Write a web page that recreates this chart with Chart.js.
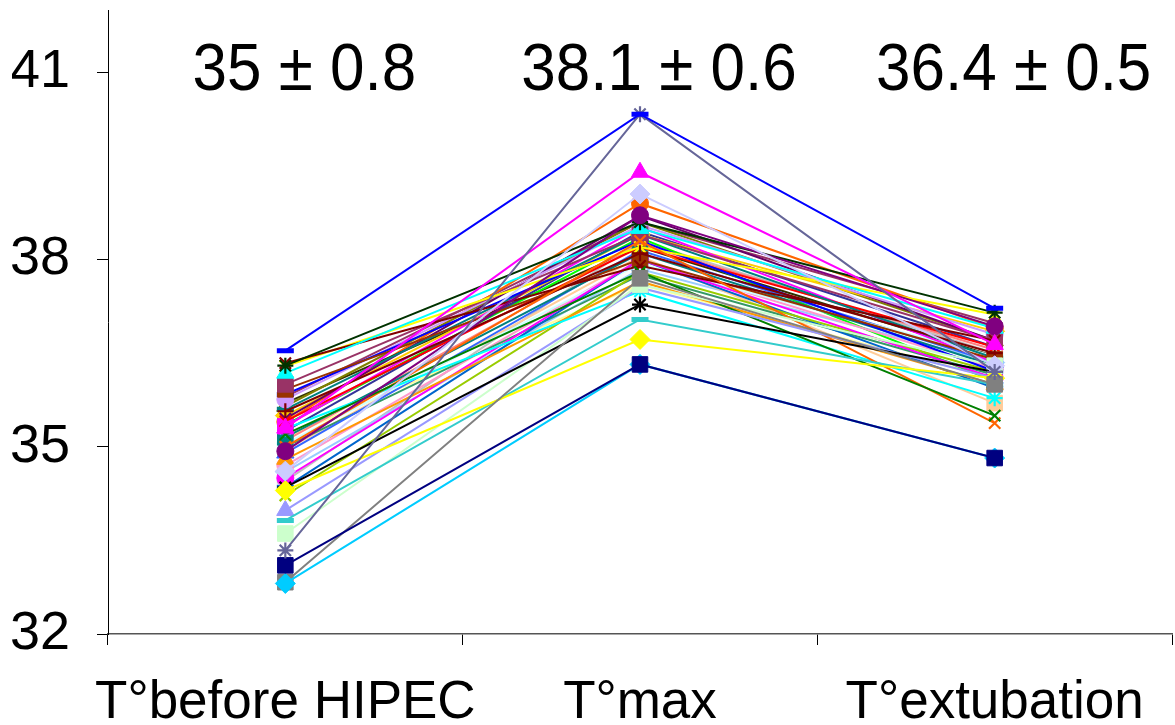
<!DOCTYPE html>
<html>
<head>
<meta charset="utf-8">
<script src="https://cdn.jsdelivr.net/npm/chart.js@4.4.1/dist/chart.umd.min.js"></script>
<style>
  html, body { margin: 0; padding: 0; background: #fff; }
  #wrap { width: 1175px; height: 725px; }
</style>
</head>
<body>
<div id="wrap"><canvas id="chart" width="1175" height="725"></canvas></div>
<script>
// categorias e ticks
const categories = ['T°before HIPEC', 'T°max', 'T°extubation'];
const yTicks = [32, 35, 38, 41];
const statsLabels = ['35 ± 0.8', '38.1 ± 0.6', '36.4 ± 0.5'];

// temperatura de cada paciente em cada momento (mesma ordem nas tres listas)
const tBefore = [36.54, 33.34, 35.30, 34.61, 34.93, 33.10, 32.81, 32.83, 34.30, 33.82,
                 34.35, 33.61, 33.98, 35.20, 35.00, 36.30, 36.18, 36.34, 35.57, 36.29,
                 36.00, 35.92, 35.84, 35.76, 35.60, 35.41, 35.33, 35.29, 35.15, 34.80,
                 34.50, 34.22, 34.35, 35.05, 35.45, 35.10, 34.90, 35.50, 35.00, 34.70,
                 35.25, 34.95, 35.65, 35.35, 34.60, 35.70, 35.40, 35.80, 34.45, 35.15];
const tMax = [40.33, 40.33, 39.40, 39.05, 38.71, 36.32, 36.32, 37.70, 36.72, 37.04,
              37.28, 37.60, 37.55, 37.80, 38.30, 38.60, 38.50, 37.90, 38.10, 38.20,
              38.40, 38.00, 38.30, 38.55, 38.40, 38.20, 38.52, 37.49, 38.10, 37.65,
              38.00, 37.80, 38.00, 37.93, 38.70, 38.25, 38.15, 38.40, 37.75, 38.00,
              38.45, 38.05, 38.60, 38.35, 37.85, 38.20, 38.90, 38.60, 38.30, 37.60];
const tExtub = [37.22, 36.20, 36.64, 36.30, 36.93, 34.82, 34.82, 36.00, 36.10, 36.00,
                36.20, 36.30, 36.10, 35.50, 35.38, 37.15, 36.90, 36.70, 36.50, 37.12,
                36.70, 36.40, 36.21, 36.80, 36.42, 36.60, 36.35, 35.78, 36.30, 36.00,
                36.10, 36.20, 35.94, 36.45, 36.70, 36.55, 36.35, 36.85, 36.15, 36.25,
                36.60, 35.70, 36.70, 36.05, 36.35, 36.45, 36.90, 36.98, 36.50, 36.10];

// cores e marcadores (estilo Excel)
const seriesColors = ['#0000FF', '#666699', '#FF00FF', '#CCCCFF', '#800080', '#000080', '#00CCFF', '#808080', '#FFFF00', '#33CCCC',
                      '#000000', '#CCFFCC', '#9999FF', '#008000', '#FF6600', '#003300', '#00FFFF', '#800000', '#800000', '#FFFF00',
                      '#993366', '#993300', '#0000FF', '#CC99FF', '#008080', '#FF0000', '#FF00FF', '#00FFFF', '#008080', '#FF9900',
                      '#FF00FF', '#99CC00', '#0066CC', '#CCFFFF', '#660066', '#FF8080', '#3366FF', '#FFCC00', '#339966', '#FF99CC',
                      '#333399', '#FFCC99', '#808000', '#00FF00', '#99CCFF', '#333300', '#FF6600', '#993366', '#C0C0C0', '#FFFF99'];
const seriesMarkers = ['line', 'star', 'triangle', 'rectRot', 'circle', 'rect', 'rectRot', 'rect', 'rectRot', 'line',
                       'star', 'rect', 'triangle', 'crossRot', 'crossRot', 'star', 'triangle', 'crossRot', 'cross', 'crossRot',
                       'rect', 'rect', 'line', 'circle', 'line', 'crossRot', 'rect', 'star', 'rect', 'triangle',
                       'circle', 'crossRot', 'line', 'circle', 'crossRot', 'rect', 'triangle', 'rectRot', 'star', 'circle',
                       'cross', 'rect', 'triangle', 'rect', 'rectRot', 'crossRot', 'circle', 'cross', 'line', 'star'];

const FONT = '"Liberation Sans", Arial, sans-serif';

function pointSize(style) {
    if (style === 'rect') return 11;
    if (style === 'rectRot') return 10;
    if (style === 'triangle') return 10;
    if (style === 'circle') return 8.5;
    if (style === 'line') return 8.5;
    return 8;
}
function pointBorder(style) {
    if (style === 'line') return 5;
    if (style === 'cross' || style === 'crossRot' || style === 'star') return 2.2;
    return 1;
}

const datasets = tBefore.map((v, i) => ({
    label: 'P' + (i + 1),
    data: [tBefore[i], tMax[i], tExtub[i]],
    borderColor: seriesColors[i],
    backgroundColor: seriesColors[i],
    borderWidth: 2,
    pointStyle: seriesMarkers[i],
    pointRadius: pointSize(seriesMarkers[i]),
    pointBorderWidth: pointBorder(seriesMarkers[i]),
    pointBackgroundColor: seriesColors[i],
    pointBorderColor: seriesColors[i],
    tension: 0
}));

// textos de media +- dp acima de cada coluna
const statsPlugin = {
    id: 'stats',
    afterDraw(chart) {
        const ctx = chart.ctx;
        const xs = chart.scales.x;
        ctx.save();
        ctx.font = '62px ' + FONT;
        ctx.fillStyle = '#000';
        ctx.textAlign = 'center';
        ctx.textBaseline = 'alphabetic';
        statsLabels.forEach((t, i) => {
            ctx.save();
            ctx.translate(xs.getPixelForValue(i) + 19, 90);
            ctx.scale(1, 1.08);
            ctx.fillText(t, 0, 0);
            ctx.restore();
        });
        ctx.restore();
    }
};

// tira o espaco extra que o Chart.js reserva para os rotulos
function noScalePadding(scale) {
    scale.paddingTop = 0;
    scale.paddingBottom = 0;
    scale.paddingLeft = 0;
    scale.paddingRight = 0;
}

new Chart(document.getElementById('chart'), {
    type: 'line',
    data: { labels: categories, datasets: datasets },
    plugins: [statsPlugin],
    options: {
        responsive: false,
        animation: false,
        layout: { autoPadding: false, padding: { left: 12, top: 10, right: 3, bottom: 0 } },
        plugins: { legend: { display: false }, tooltip: { enabled: false } },
        scales: {
            x: {
                offset: true,
                afterFit: s => { noScalePadding(s); s.height = 91; },
                grid: { offset: true, drawOnChartArea: false, drawTicks: true, tickLength: 11, color: '#000' },
                border: { display: true, color: '#555', width: 1.5 },
                ticks: { color: '#000', padding: 32, autoSkip: false, maxRotation: 0, minRotation: 0,
                         font: { family: FONT, size: 53, lineHeight: 1.0 } }
            },
            y: {
                min: 32,
                max: 42,
                afterBuildTicks: axis => { axis.ticks = yTicks.map(v => ({ value: v })); },
                afterFit: s => { noScalePadding(s); s.width = 96; },
                grid: { drawOnChartArea: false, drawTicks: true, tickLength: 11, color: '#000' },
                border: { display: true, color: '#000', width: 1 },
                ticks: { color: '#000', padding: 27, font: { family: FONT, size: 54 } }
            }
        }
    }
});
</script>
</body>
</html>
